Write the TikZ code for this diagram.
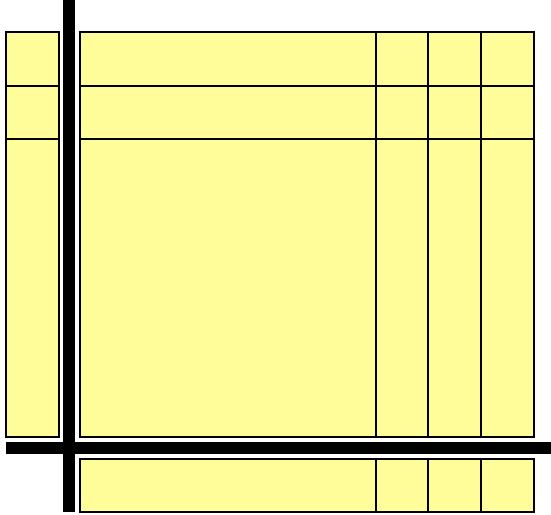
\documentclass[tikz,border=0pt]{standalone}
\definecolor{cellfill}{RGB}{255,253,153}
\tikzset{
  cell/.style={draw=black, fill=cellfill, line width=1.8pt},
  bar/.style={fill=black, draw=none}
}
\begin{document}
\begin{tikzpicture}[x=1pt,y=-1pt]
\useasboundingbox (0,0) rectangle (551,514);
% left column
\draw[cell] (6,32) rectangle (59,86);
\draw[cell] (6,86) rectangle (59,139);
\draw[cell] (6,139) rectangle (59,437);
% main grid
\foreach \ya/\yb in {32/86, 86/139, 139/437, 459/512}{
  \draw[cell] (80,\ya) rectangle (376,\yb);
  \draw[cell] (376,\ya) rectangle (428,\yb);
  \draw[cell] (428,\ya) rectangle (481,\yb);
  \draw[cell] (481,\ya) rectangle (534,\yb);
}
% bars
\fill[bar] (63,0) rectangle (75,512);
\fill[bar] (6,442) rectangle (551,454);
\end{tikzpicture}
\end{document}
